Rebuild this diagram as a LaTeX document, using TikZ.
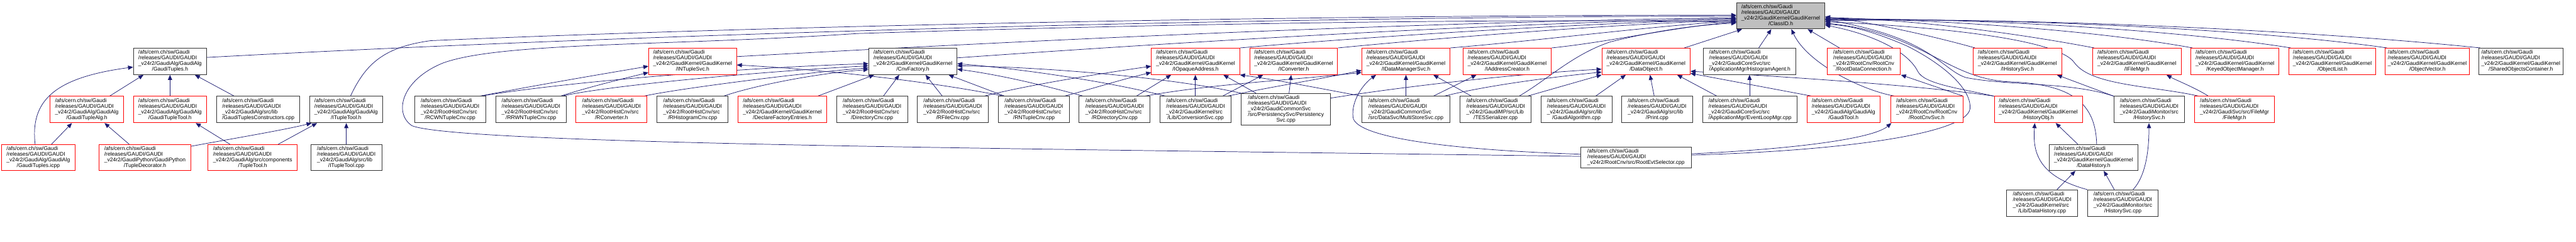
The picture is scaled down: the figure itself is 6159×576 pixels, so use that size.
\documentclass[tikz,border=0pt]{standalone}
\usepackage{fontspec}
\setmainfont{Liberation Sans}
\usetikzlibrary{arrows.meta}
\definecolor{edgec}{HTML}{191970}
\definecolor{redb}{HTML}{FF0000}
\definecolor{grayf}{HTML}{BFBFBF}
\pgfdeclarelayer{bg}
\pgfsetlayers{bg,main}
\newcommand\pre{/afs/cern.ch/sw/Gaudi\\/releases/GAUDI/GAUDI\\}
\newcommand\GK{\pre\_v24r2/GaudiKernel/GaudiKernel}
\newcommand\GA{\pre\_v24r2/GaudiAlg/GaudiAlg}
\newcommand\RH{\pre\_v24r2/RootHistCnv/src}
\newcommand\lbl[2]{\begin{tabular}{@{}l@{}}#1\\\multicolumn{1}{@{}c@{}}{#2}\end{tabular}}
\newcommand\nd[7]{\node[#6, minimum width={#4-#2}, minimum height={#5-#3}] (#1) at ({(#2+#4)/2},{(#3+#5)/2}) {#7};}
\newcommand\ed[2]{\draw[conn] (#1) -- (#2);}
\newcommand\ec[4]{\draw[conn] (#1) .. controls (#2) and (#3) .. (#4);}
\begin{document}
\begin{tikzpicture}[x=1pt,y=-1pt,
  every node/.style={font=\fontsize{12.8}{13.6}\selectfont, inner sep=0pt, line width=1.4pt, rectangle},
  blk/.style={draw=black!80, fill=white},
  rd/.style={draw=redb, fill=white},
  rt/.style={draw=black!80, fill=grayf},
  conn/.style={draw=edgec, line width=1.1pt, -{Triangle[length=12pt,width=10pt]}}]
\useasboundingbox (0,0) rectangle (6159,576);
% row 0
\nd{classid}{4152}{6}{4363}{69}{rt}{\lbl{\GK}{/ClassID.h}}
% row 1
\nd{gtuples}{319}{115}{494}{178}{blk}{\lbl{\GA}{/GaudiTuples.h}}
\nd{intuplesvc}{1551}{115}{1761}{178}{rd}{\lbl{\GK}{/INTupleSvc.h}}
\nd{cnvfactory}{2077}{115}{2288}{178}{blk}{\lbl{\GK}{/CnvFactory.h}}
\nd{iopaque}{2753}{115}{2964}{178}{rd}{\lbl{\GK}{/IOpaqueAddress.h}}
\nd{iconverter}{2988}{115}{3198}{178}{rd}{\lbl{\GK}{/IConverter.h}}
\nd{idatamgr}{3256}{115}{3467}{178}{rd}{\lbl{\GK}{/IDataManagerSvc.h}}
\nd{iaddr}{3498}{115}{3709}{178}{rd}{\lbl{\GK}{/IAddressCreator.h}}
\nd{dataobject}{3830}{115}{4041}{178}{rd}{\lbl{\GK}{/DataObject.h}}
\nd{histagent}{4073}{115}{4294}{178}{blk}{\lbl{\pre\_v24r2/GaudiCoreSvc/src}{/ApplicationMgr/HistogramAgent.h}}
\nd{rootdataconn}{4369}{115}{4543}{178}{rd}{\lbl{\pre\_v24r2/RootCnv/RootCnv}{/RootDataConnection.h}}
\nd{ihistsvc}{4718}{115}{4929}{178}{rd}{\lbl{\GK}{/IHistorySvc.h}}
\nd{ifilemgr}{5003}{115}{5215}{178}{rd}{\lbl{\GK}{/IFileMgr.h}}
\nd{keyedobj}{5238}{115}{5449}{178}{rd}{\lbl{\GK}{/KeyedObjectManager.h}}
\nd{objlist}{5473}{115}{5680}{178}{rd}{\lbl{\GK}{/ObjectList.h}}
\nd{objvector}{5703}{115}{5904}{178}{rd}{\lbl{\GK}{/ObjectVector.h}}
\nd{soc}{5926}{115}{6128}{178}{blk}{\lbl{\GK}{/SharedObjectsContainer.h}}
% row 2
\nd{gtalg}{120}{230}{295}{293}{rd}{\lbl{\GA}{/GaudiTupleAlg.h}}
\nd{gttool}{319}{230}{494}{293}{rd}{\lbl{\GA}{/GaudiTupleTool.h}}
\nd{gtcons}{518}{230}{717}{293}{blk}{\lbl{\pre\_v24r2/GaudiAlg/src/lib}{/GaudiTuplesConstructors.cpp}}
\nd{ituptool}{740}{230}{915}{293}{blk}{\lbl{\GA}{/ITupleTool.h}}
\nd{rcwn}{991}{230}{1161}{293}{blk}{\lbl{\RH}{/RCWNTupleCnv.cpp}}
\nd{rrwn}{1185}{230}{1354}{293}{blk}{\lbl{\RH}{/RRWNTupleCnv.cpp}}
\nd{rconv}{1377}{230}{1547}{293}{rd}{\lbl{\RH}{/RConverter.h}}
\nd{rhist}{1571}{230}{1741}{293}{blk}{\lbl{\RH}{/RHistogramCnv.cpp}}
\nd{declfact}{1765}{230}{1976}{293}{rd}{\lbl{\GK}{/DeclareFactoryEntries.h}}
\nd{dircnv}{2000}{230}{2170}{293}{blk}{\lbl{\RH}{/DirectoryCnv.cpp}}
\nd{rfile}{2193}{230}{2363}{293}{blk}{\lbl{\RH}{/RFileCnv.cpp}}
\nd{rntuple}{2387}{230}{2557}{293}{blk}{\lbl{\RH}{/RNTupleCnv.cpp}}
\nd{rdir}{2580}{230}{2750}{293}{blk}{\lbl{\RH}{/RDirectoryCnv.cpp}}
\nd{convsvc}{2774}{230}{2943}{293}{blk}{\lbl{\pre\_v24r2/GaudiKernel/src}{/Lib/ConversionSvc.cpp}}
\nd{perssvc}{2968}{223}{3181}{299}{blk}{\lbl{\pre\_v24r2/GaudiCommonSvc\\/src/PersistencySvc/Persistency}{Svc.cpp}}
\nd{multistore}{3256}{230}{3467}{293}{blk}{\lbl{\pre\_v24r2/GaudiCommonSvc}{/src/DataSvc/MultiStoreSvc.cpp}}
\nd{tesser}{3491}{230}{3661}{293}{blk}{\lbl{\pre\_v24r2/GaudiMP/src/Lib}{/TESSerializer.cpp}}
\nd{galgo}{3684}{230}{3854}{293}{blk}{\lbl{\pre\_v24r2/GaudiAlg/src/lib}{/GaudiAlgorithm.cpp}}
\nd{print}{3877}{230}{4047}{293}{blk}{\lbl{\pre\_v24r2/GaudiAlg/src/lib}{/Print.cpp}}
\nd{evloop}{4071}{230}{4297}{293}{blk}{\lbl{\pre\_v24r2/GaudiCoreSvc/src}{/ApplicationMgr/EventLoopMgr.cpp}}
\nd{gtool}{4320}{230}{4495}{293}{rd}{\lbl{\GA}{/GaudiTool.h}}
\nd{rootcnvsvc}{4520}{230}{4693}{293}{rd}{\lbl{\pre\_v24r2/RootCnv/RootCnv}{/RootCnvSvc.h}}
\nd{histobj}{4768}{230}{4979}{293}{rd}{\lbl{\GK}{/HistoryObj.h}}
\nd{histsvch}{5054}{230}{5223}{293}{blk}{\lbl{\pre\_v24r2/GaudiMonitor/src}{/HistorySvc.h}}
\nd{filemgr}{5247}{230}{5438}{293}{rd}{\lbl{\pre\_v24r2/GaudiSvc/src/FileMgr}{/FileMgr.h}}
% row 3
\nd{gticpp}{4}{345}{179}{407}{rd}{\lbl{\GA}{/GaudiTuples.icpp}}
\nd{tupledec}{237}{345}{456}{407}{rd}{\lbl{\pre\_v24r2/GaudiPython/GaudiPython}{/TupleDecorator.h}}
\nd{tupletool}{497}{345}{711}{407}{rd}{\lbl{\pre\_v24r2/GaudiAlg/src/components}{/TupleTool.h}}
\nd{ituptoolcpp}{743}{345}{913}{407}{blk}{\lbl{\pre\_v24r2/GaudiAlg/src/lib}{/ITupleTool.cpp}}
\nd{rootevtsel}{3779}{351}{4044}{401}{blk}{\lbl{/afs/cern.ch/sw/Gaudi\\/releases/GAUDI/GAUDI}{\_v24r2/RootCnv/src/RootEvtSelector.cpp}}
\nd{datahisth}{4900}{345}{5111}{407}{blk}{\lbl{\GK}{/DataHistory.h}}
% row 4
\nd{datahistcpp}{4798}{453}{4967}{517}{blk}{\lbl{\pre\_v24r2/GaudiKernel/src}{/Lib/DataHistory.cpp}}
\nd{histsvccpp}{4991}{453}{5160}{517}{blk}{\lbl{\pre\_v24r2/GaudiMonitor/src}{/HistorySvc.cpp}}

\begin{pgfonlayer}{bg}
\fill[white] (0,0) rectangle (6159,576);
% left cluster
\ed{gtalg.north -| 262,0}{gtuples.south -| 343,0}
\ed{gttool.north}{gtuples.south}
\ed{gtcons.north -| 560,0}{gtuples.south -| 466,0}
\ec{gticpp.north -| 84,0}{72,240}{130,185}{gtuples.west |- 0,160}
\ed{gticpp.north -| 123,0}{gtalg.south -| 172,0}
\ed{tupledec.north -| 309,0}{gtalg.south -| 250,0}
\ec{tupledec.east |- 0,349}{560,330}{680,310}{ituptool.south -| 745,0}
\ed{tupletool.north -| 550,0}{gttool.south -| 468,0}
\ed{tupletool.north -| 665,0}{ituptool.south -| 758,0}
\ed{ituptoolcpp.north -| 828,0}{ituptool.south -| 828,0}
\draw[conn] (ituptool.north -| 838,0) .. controls (875,150) and (920,112) .. (1030,97) .. controls (2000,55) and (3300,36) .. (classid.west |- 0,36);
\draw[conn] (gtuples.east |- 0,137) .. controls (1400,88) and (2800,42) .. (classid.west |- 0,38);
% roothistcnv cluster
\ec{rcwn.north -| 1147,0}{1300,200}{1450,175}{intuplesvc.west |- 0,158}
\ec{rcwn.north -| 1150,0}{1350,195}{1800,160}{cnvfactory.west |- 0,152}
\ec{rrwn.north -| 1340,0}{1400,210}{1480,190}{intuplesvc.west |- 0,173}
\ec{rrwn.north -| 1343,0}{1450,205}{1800,172}{cnvfactory.west |- 0,157}
\ec{rconv.north -| 1540,0}{1600,215}{1900,175}{cnvfactory.west |- 0,162}
\ec{rhist.north -| 1730,0}{1800,205}{1950,175}{cnvfactory.west |- 0,166}
\ec{intuplesvc.east |- 0,135}{2400,100}{3300,55}{classid.west |- 0,42}
\ed{declfact.north -| 1955,0}{cnvfactory.south -| 2090,0}
\ed{dircnv.north -| 2112,0}{cnvfactory.south -| 2150,0}
\ed{rfile.north -| 2253,0}{cnvfactory.south -| 2213,0}
\ec{rfile.north -| 2353,0}{2450,205}{2600,180}{iopaque.west |- 0,158}
\ec{rntuple.north -| 2400,0}{2200,190}{1950,165}{intuplesvc.east |- 0,155}
\ed{rntuple.north -| 2402,0}{cnvfactory.south -| 2268,0}
\ec{rntuple.north -| 2545,0}{2600,215}{2680,190}{iopaque.west |- 0,173}
\ec{rdir.north -| 2590,0}{2500,205}{2400,180}{cnvfactory.east |- 0,165}
\ed{rdir.north -| 2717,0}{iopaque.south -| 2800,0}
\ec{rdir.north -| 2737,0}{2900,200}{3100,190}{idatamgr.west |- 0,173}
\ec{convsvc.north -| 2787,0}{2650,195}{2450,165}{cnvfactory.east |- 0,152}
\ec{perssvc.north west}{2800,185}{2500,160}{cnvfactory.east |- 0,157}
\ed{convsvc.north -| 2858,0}{iopaque.south -| 2858,0}
\ed{convsvc.north -| 2923,0}{iconverter.south -| 3020,0}
\ec{convsvc.north -| 2935,0}{3050,205}{3150,190}{idatamgr.west |- 0,168}
\ed{perssvc.north -| 3003,0}{iopaque.south -| 2925,0}
\ed{perssvc.north -| 3082,0}{iconverter.south -| 3087,0}
\ec{perssvc.east |- 0,234}{3400,200}{3650,175}{dataobject.west |- 0,165}
% row1 to classid (left)
\ec{cnvfactory.east |- 0,138}{2900,95}{3600,55}{classid.west |- 0,44}
\ec{iopaque.north east}{3300,85}{3800,55}{classid.west |- 0,46}
\ec{iconverter.north east}{3450,90}{3850,58}{classid.west |- 0,48}
\ec{idatamgr.north east}{3700,95}{3950,62}{classid.west |- 0,50}
\ec{iaddr.north east}{3850,100}{4000,65}{classid.west |- 0,52}
\ed{dataobject.north -| 4027,0}{classid.south -| 4165,0}
\ed{histagent.north -| 4205,0}{classid.south -| 4235,0}
\ed{rootdataconn.north -| 4398,0}{classid.south -| 4322,0}
% middle cluster
\ec{multistore.north west}{3150,210}{3050,190}{iopaque.south east}
\ed{multistore.north}{idatamgr.south}
\ed{multistore.north -| 3427,0}{iaddr.south -| 3530,0}
\ec{multistore.north -| 3453,0}{3550,205}{3700,185}{dataobject.west |- 0,172}
\ed{tesser.north -| 3518,0}{idatamgr.south -| 3427,0}
\draw[conn] (tesser.north -| 3632,0) .. controls (3700,190) and (3760,130) .. (3850,100) .. controls (3950,75) and (4050,60) .. (classid.west |- 0,55);
\ed{tesser.north -| 3652,0}{dataobject.south west}
\ed{galgo.north -| 3815,0}{dataobject.south -| 3887,0}
\ed{print.north -| 3955,0}{dataobject.south -| 3945,0}
\ed{evloop.north -| 4105,0}{dataobject.south -| 4010,0}
\ed{evloop.north -| 4183,0}{histagent.south -| 4183,0}
\ed{gtool.north -| 4332,0}{dataobject.east |- 0,175}
\ec{rootcnvsvc.north -| 4530,0}{4450,215}{4320,150}{classid.south -| 4283,0}
\ed{rootcnvsvc.north east}{rootdataconn.south -| 4545,0}
\ec{histobj.north west}{4600,205}{4300,185}{dataobject.east |- 0,170}
\draw[conn] (histobj.north west) .. controls (4680,210) and (4600,200) .. (4585,170) .. controls (4560,120) and (4470,80) .. (classid.east |- 0,60);
% rootevtselector
\draw[conn] (rootevtsel.west |- 0,373) .. controls (2500,355) and (1100,345) .. (985,300) .. controls (940,270) and (960,190) .. (1060,150) .. controls (1200,100) and (1600,110) .. (2050,80) .. controls (3000,50) and (3800,45) .. (classid.west |- 0,53);
\draw[conn] (rootevtsel.west |- 0,368) .. controls (3400,355) and (3240,320) .. (3235,280) .. controls (3230,240) and (3260,200) .. (idatamgr.south -| 3290,0);
\ec{rootevtsel.east |- 0,367}{4300,355}{4480,330}{rootcnvsvc.south -| 4522,0}
\draw[conn] (rootevtsel.east |- 0,370) .. controls (4400,360) and (4700,320) .. (4710,260) .. controls (4715,210) and (4640,150) .. (4560,110) .. controls (4480,75) and (4420,60) .. (classid.east |- 0,58);
% right side to classid
\ec{ihistsvc.north -| 4722,0}{4600,80}{4450,50}{classid.east |- 0,40}
\ec{ifilemgr.north -| 5007,0}{4800,75}{4550,45}{classid.east |- 0,42}
\ec{keyedobj.north -| 5242,0}{5000,70}{4600,45}{classid.east |- 0,44}
\ec{objlist.north -| 5477,0}{5200,70}{4700,42}{classid.east |- 0,46}
\ec{objvector.north -| 5707,0}{5400,70}{4800,42}{classid.east |- 0,48}
\ec{soc.north -| 5930,0}{5500,70}{4800,40}{classid.east |- 0,50}
% history cluster
\draw[conn] (datahisth.north -| 5013,0) .. controls (5010,250) and (4960,200) .. (4800,195) .. controls (4650,185) and (4600,80) .. (classid.east |- 0,55);
\ed{datahisth.north -| 4968,0}{histobj.south -| 4915,0}
\ed{datahistcpp.north -| 4918,0}{datahisth.south -| 4962,0}
\ed{histsvccpp.north -| 5055,0}{datahisth.south -| 5030,0}
\ec{histsvccpp.north west}{4870,420}{4860,360}{histobj.south -| 4865,0}
\ec{histsvccpp.north -| 5100,0}{5130,420}{5138,360}{histsvch.south -| 5138,0}
\ed{histsvch.north west}{ihistsvc.south -| 4918,0}
\draw[conn] (histsvch.north west) .. controls (4950,195) and (4800,205) .. (4700,185) .. controls (4640,165) and (4620,90) .. (classid.east |- 0,47);
\ec{filemgr.north -| 5280,0}{5250,210}{5200,190}{ifilemgr.south -| 5180,0}
\draw[conn] (filemgr.north -| 5257,0) .. controls (5150,205) and (5000,205) .. (4960,150) .. controls (4920,90) and (4600,62) .. (classid.east |- 0,52);
\end{pgfonlayer}
\end{tikzpicture}
\end{document}
